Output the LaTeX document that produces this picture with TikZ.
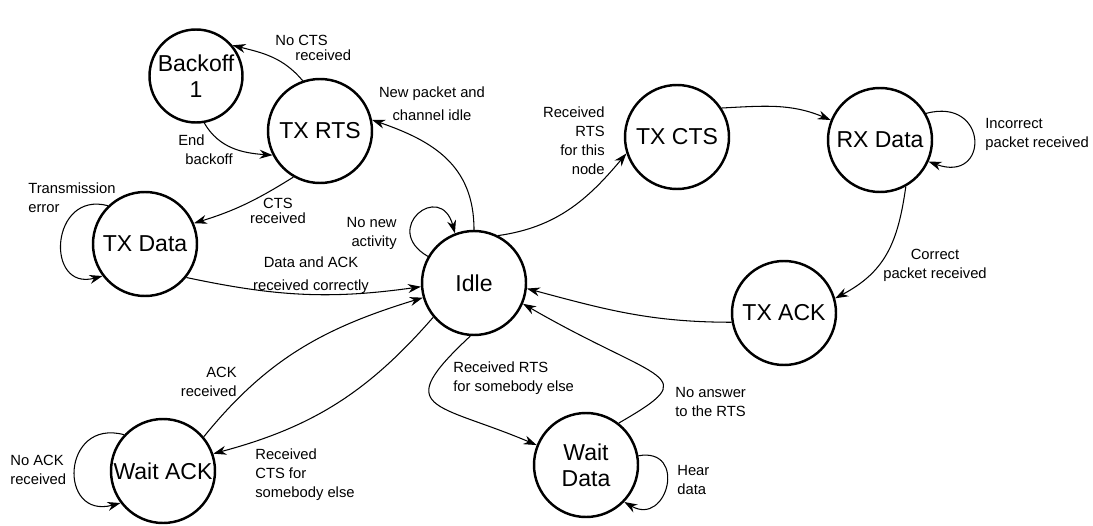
\documentclass[tikz,border=0pt]{standalone}
\usepackage{fontspec}
\setmainfont{Liberation Sans}
\usetikzlibrary{arrows.meta}
\tikzset{
  fsm state/.style={
    circle, draw, line width=1.4pt,
    minimum size=2.08cm, inner sep=0pt,
    align=center,
    font=\fontsize{13.1pt}{14.8pt}\selectfont,
  },
  trans/.style={
    line width=0.6pt,
    -{Stealth[length=2.6mm,width=1.8mm]},
  },
  trans label/.style={
    inner sep=0pt,
    font=\fontsize{8.4pt}{10.8pt}\selectfont,
  },
}
\begin{document}
\begin{tikzpicture}
\useasboundingbox (0,0) rectangle (21.86,10.5);

%% States ==========================================================
\node[fsm state, minimum size=1.86cm] (backoff) at (3.92, 8.98) {Backoff\\1};
\node[fsm state] (txrts)    at (6.40, 7.88)  {TX RTS};
\node[fsm state] (txdata)   at (2.90, 5.62)  {TX Data};
\node[fsm state] (idle)     at (9.48, 4.84)  {Idle};
\node[fsm state] (txcts)    at (13.54, 7.76) {TX CTS};
\node[fsm state] (rxdata)   at (17.60, 7.70) {RX Data};
\node[fsm state] (txack)    at (15.68, 4.24) {TX ACK};
\node[fsm state] (waitack)  at (3.26, 1.08)  {Wait ACK};
\node[fsm state] (waitdata) at (11.72, 1.20) {Wait\\Data};

%% Labels ==========================================================
\node[trans label, align=left, anchor=west] (lnocts) at (5.50, 9.54)
  {No CTS\\[-2.3pt]\hspace*{0.4cm}received};
\node[trans label, align=left, anchor=west] (lendbo) at (3.56, 7.50)
  {End\\\hspace*{0.14cm}backoff};
\node[trans label, align=center] (lcts) at (5.56, 6.28) {CTS\\[-2.3pt]received};
\node[trans label, align=left, anchor=west] (ltxerr) at (0.56, 6.54)
  {Transmission\\error};
\node[trans label, align=center] (ldataack) at (6.22, 5.00)
  {Data and ACK\\[2.3pt]received correctly};
\node[trans label, align=right, anchor=east] (lnonew) at (7.94, 5.84)
  {No new\\activity};
\node[trans label, align=center] (lnewpkt) at (8.64, 8.42)
  {New packet and\\[2.3pt]channel idle};
\node[trans label, align=right, anchor=east] (lrxrts) at (12.10, 7.68)
  {Received\\RTS\\for this\\node};
\node[trans label, align=left, anchor=west] (lincorr) at (19.70, 7.82)
  {Incorrect\\packet received};
\node[trans label, align=center] (lcorr) at (18.70, 5.20)
  {Correct\\packet received};
\node[trans label, align=left, anchor=west] (lnoans) at (13.50, 2.46)
  {No answer\\to the RTS};
\node[trans label, align=left, anchor=west] (lrxother) at (9.06, 2.94)
  {Received RTS\\for somebody else};
\node[trans label, align=left, anchor=west] (lhear) at (13.54, 0.90)
  {Hear\\data};
\node[trans label, align=right, anchor=east] (lackrx) at (4.74, 2.86)
  {ACK\\received};
\node[trans label, align=left, anchor=west] (lctsother) at (5.10, 1.00)
  {Received\\CTS for\\somebody else};
\node[trans label, align=left, anchor=west] (lnoack) at (0.20, 1.10)
  {No ACK\\received};

%% Transitions =====================================================
\draw[trans] (txrts.109) to[out=130, in=-14] (backoff.40);
\draw[trans] (backoff.-80) to[out=-60, in=176] (txrts.207);
\draw[trans] (txrts.240) to[out=212, in=17] (txdata.23);
\draw[trans] (txdata.134) .. controls +(165:1.2) and +(195:1.2) .. (txdata.217);
\draw[trans] (txdata.-39) to[out=-12, in=188] (idle.184);
\draw[trans] (idle.150) .. controls +(150:1.1) and +(105:1.1) .. (idle.111);
\draw[trans] (idle.90) to[out=90, in=-19, looseness=1.1] (txrts.12);
\draw[trans] (idle.63) to[out=8, in=230] (txcts.198);
\draw[trans] (txcts.33) to[out=3, in=157] (rxdata.158);
\draw[trans] (rxdata.30) .. controls +(15:1.3) and +(-20:1.3) .. (rxdata.-24);
\draw[trans] (rxdata.-61) to[out=-98, in=28, looseness=1.1] (txack.16);
\draw[trans] (txack.190) to[out=180, in=-15] (idle.-6);
\draw[trans] (waitdata.52) .. controls +(30:2) and +(-30:3.2) .. (idle.-23);
\draw[trans] (idle.-94) .. controls +(-137:2.2) and +(157:2.2) .. (waitdata.158);
\draw[trans] (waitdata.10) .. controls +(10:1.0) and +(-30:1.0) .. (waitdata.-44);
\draw[trans] (waitack.40) to[out=51, in=197] (idle.196);
\draw[trans] (idle.220) to[out=229, in=15] (waitack.19);
\draw[trans] (waitack.137) .. controls +(165:1.3) and +(195:1.3) .. (waitack.217);

\end{tikzpicture}
\end{document}
